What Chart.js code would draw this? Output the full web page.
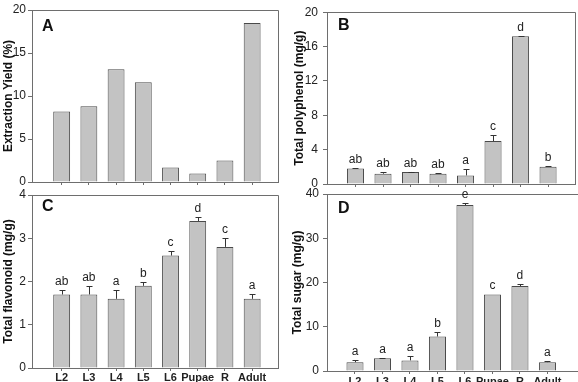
<!DOCTYPE html>
<html>
<head>
<meta charset="utf-8">
<script src="https://cdn.jsdelivr.net/npm/chart.js@4.4.1/dist/chart.umd.min.js"></script>
<style>
html,body{margin:0;padding:0;width:578px;height:382px;overflow:hidden;background:#fff;}
.pane{position:absolute;left:0;top:0;width:600px;height:400px;}
canvas{position:absolute;left:0;top:0;}
</style>
</head>
<body>
<div class="pane"><canvas id="cA" width="600" height="400"></canvas></div>
<div class="pane"><canvas id="cB" width="600" height="400"></canvas></div>
<div class="pane"><canvas id="cC" width="600" height="400"></canvas></div>
<div class="pane"><canvas id="cD" width="600" height="400"></canvas></div>
<script>
// ---- data ----
const categories = ['L2','L3','L4','L5','L6','Pupae','R','Adult'];

const yieldValues = [8.2, 8.8, 13.1, 11.6, 1.7, 1.0, 2.5, 18.5];

const polyphenolValues = [1.8, 1.2, 1.4, 1.2, 1.0, 5.0, 17.2, 2.0];
const polyphenolErrors = [0.05, 0.2, 0.05, 0.03, 0.7, 0.7, 0.05, 0.05];
const polyphenolLetters = ['ab','ab','ab','ab','a','c','d','b'];

const flavonoidValues = [1.7, 1.7, 1.6, 1.9, 2.6, 3.4, 2.8, 1.6];
const flavonoidErrors = [0.1, 0.2, 0.2, 0.1, 0.1, 0.1, 0.2, 0.1];
const flavonoidLetters = ['ab','ab','a','b','c','d','c','a'];

const sugarValues = [2.0, 2.9, 2.4, 7.8, 37.5, 17.3, 19.2, 2.0];
const sugarErrors = [0.4, 0.1, 1.0, 1.1, 0.4, 0, 0.4, 0.3];
const sugarLetters = ['a','a','a','b','e','c','d','a'];

// ---- styling ----
Chart.defaults.font.family = '"Liberation Sans", Arial, Helvetica, sans-serif';
Chart.defaults.color = '#222';
Chart.defaults.devicePixelRatio = 1;
const AXIS = '#6e6e6e';
const CW = 600, CH = 400, XAXIS_H = 22;

const panelPlugin = {
  id: 'panelPlugin',
  afterDraw(chart) {
    const cfg = chart.options.plugins.panelPlugin;
    const ctx = chart.ctx;
    const a = chart.chartArea;
    const ys = chart.scales.y;
    const meta = chart.getDatasetMeta(0);
    const vals = chart.data.datasets[0].data;
    ctx.save();
    // frame
    ctx.strokeStyle = AXIS;
    ctx.lineWidth = 1;
    ctx.beginPath();
    ctx.rect(Math.round(a.left) + 0.5, Math.round(a.top) + 0.5, Math.round(a.right - a.left), Math.round(a.bottom - a.top));
    ctx.stroke();
    // error bars + letters
    meta.data.forEach((el, i) => {
      const v = vals[i].y;
      const e = cfg.errors ? cfg.errors[i] : 0;
      const yTop = ys.getPixelForValue(v + e);
      if (cfg.errors && e > 0) {
        ctx.strokeStyle = '#333';
        ctx.lineWidth = 1;
        ctx.beginPath();
        const x = Math.round(el.x) + 0.5;
        ctx.moveTo(x, el.y);
        ctx.lineTo(x, Math.round(yTop) + 0.5);
        ctx.moveTo(x - 3, Math.round(yTop) + 0.5);
        ctx.lineTo(x + 3, Math.round(yTop) + 0.5);
        ctx.stroke();
      }
      if (cfg.letters) {
        ctx.fillStyle = '#222';
        ctx.font = '12px "Liberation Sans", Arial, sans-serif';
        ctx.textAlign = 'center';
        ctx.textBaseline = 'alphabetic';
        ctx.fillText(cfg.letters[i], el.x, Math.min(yTop, el.y) - 5);
      }
    });
    // panel letter
    ctx.fillStyle = '#111';
    ctx.font = 'bold 16px "Liberation Sans", Arial, sans-serif';
    ctx.textAlign = 'left';
    ctx.textBaseline = 'alphabetic';
    ctx.fillText(cfg.panelLabel, cfg.labelPos[0], cfg.labelPos[1]);
    ctx.restore();
  }
};

function makePanel(p) {
  const data = categories.map((c, i) => ({ x: i + 1, y: p.values[i] }));
  return new Chart(document.getElementById(p.id), {
    type: 'bar',
    data: { datasets: [{
      data: data,
      backgroundColor: '#c3c3c3',
      borderColor: '#4a4a4a',
      borderWidth: 1,
      barPercentage: 0.62,
      categoryPercentage: 1.0
    }]},
    options: {
      responsive: false,
      animation: false,
      layout: { padding: {
        left: p.area.l - p.yAxisWidth,
        top: p.area.t,
        right: CW - p.area.r,
        bottom: CH - p.area.b - XAXIS_H
      }},
      plugins: {
        legend: { display: false },
        tooltip: { enabled: false },
        panelPlugin: { errors: p.errors, letters: p.letters, panelLabel: p.panelLabel, labelPos: p.labelPos }
      },
      scales: {
        x: {
          type: 'linear',
          offset: false,
          min: p.xMin, max: p.xMax,
          afterBuildTicks: (s) => { s.ticks = categories.map((c, i) => ({ value: i + 1 })); },
          afterFit: (s) => { s.height = XAXIS_H; },
          grid: { offset: false, drawOnChartArea: false, drawTicks: true, tickLength: 3, color: AXIS },
          border: { display: true, color: AXIS },
          ticks: {
            display: p.showLabels,
            autoSkip: false, maxRotation: 0, padding: p.xPad,
            font: { size: 11, weight: 'bold' }, color: '#222',
            callback: (v) => categories[Math.round(v) - 1] || ''
          }
        },
        y: {
          min: 0, max: p.yMax,
          afterFit: (s) => { s.width = p.yAxisWidth; },
          grid: { drawOnChartArea: false, drawTicks: true, tickLength: 4, color: AXIS },
          border: { display: true, color: AXIS },
          ticks: { stepSize: p.yStep, padding: p.tickPad, font: { size: 12 }, color: '#222' },
          title: { display: true, text: p.yTitle, font: { size: 12, weight: 'bold' }, color: '#111', padding: { top: 1, bottom: 0 } }
        }
      }
    },
    plugins: [panelPlugin]
  });
}

makePanel({ id: 'cA', values: yieldValues, errors: null, letters: null,
  yMax: 20, yStep: 5, yTitle: 'Extraction Yield (%)',
  area: { l: 32, t: 10, r: 278, b: 182 }, yAxisWidth: 32, tickPad: 2, xPad: 0,
  xMin: -0.09, xMax: 8.95, showLabels: false, panelLabel: 'A', labelPos: [42, 31] });

makePanel({ id: 'cB', values: polyphenolValues, errors: polyphenolErrors, letters: polyphenolLetters,
  yMax: 20, yStep: 4, yTitle: 'Total polyphenol (mg/g)',
  area: { l: 327, t: 10, r: 575, b: 184 }, yAxisWidth: 36, tickPad: 5, xPad: 0,
  xMin: -0.036, xMax: 8.98, showLabels: false, panelLabel: 'B', labelPos: [338, 30] });

makePanel({ id: 'cC', values: flavonoidValues, errors: flavonoidErrors, letters: flavonoidLetters,
  yMax: 4, yStep: 1, yTitle: 'Total flavonoid (mg/g)',
  area: { l: 32, t: 195, r: 278, b: 368 }, yAxisWidth: 32, tickPad: 2, xPad: 0,
  xMin: -0.09, xMax: 8.95, showLabels: true, panelLabel: 'C', labelPos: [42, 211] });

makePanel({ id: 'cD', values: sugarValues, errors: sugarErrors, letters: sugarLetters,
  yMax: 40, yStep: 10, yTitle: 'Total sugar (mg/g)',
  area: { l: 327, t: 194, r: 581, b: 371 }, yAxisWidth: 38, tickPad: 4, xPad: 1,
  xMin: -0.018, xMax: 9.22, showLabels: true, panelLabel: 'D', labelPos: [338, 213] });
</script>
</body>
</html>
